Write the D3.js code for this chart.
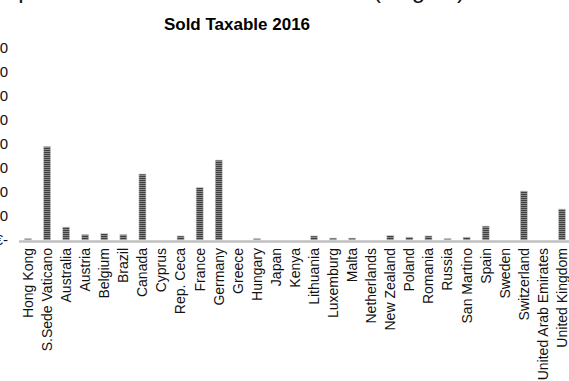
<!DOCTYPE html>
<html>
<head>
<meta charset="utf-8">
<script src="https://cdn.jsdelivr.net/npm/d3@7"></script>
<style>
  body { margin: 0; background: #fff; }
  svg { display: block; }
  .lbl { font-family: "Liberation Sans", Arial, sans-serif; fill: #111; }
</style>
</head>
<body>
<div id="chart"></div>
<script>
// data (values in euro)
var countries = ["Hong Kong", "S.Sede Vaticano", "Australia", "Austria", "Belgium", "Brazil",
  "Canada", "Cyprus", "Rep. Ceca", "France", "Germany", "Greece", "Hungary", "Japan", "Kenya",
  "Lithuania", "Luxemburg", "Malta", "Netherlands", "New Zealand", "Poland", "Romania", "Russia",
  "San Martino", "Spain", "Sweden", "Switzerland", "United Arab Emirates", "United Kingdom"];
var sold = [6000, 390000, 54000, 23000, 27000, 23000,
  275000, 0, 17000, 219000, 333000, 0, 6000, 0, 0,
  17000, 8000, 8000, 0, 19000, 12000, 17000, 6000,
  12000, 58000, 0, 204000, 0, 129000];
var yTicks = [0, 100000, 200000, 300000, 400000, 500000, 600000, 700000, 800000];

var svgWidth = 569, svgHeight = 381;

var svg = d3.select("#chart").append("svg")
  .attr("width", svgWidth)
  .attr("height", svgHeight);

// striped fill like the excel pattern
var defs = svg.append("defs");
var pat = defs.append("pattern")
  .attr("id", "stripes")
  .attr("patternUnits", "userSpaceOnUse")
  .attr("width", 4).attr("height", 2);
pat.append("rect").attr("width", 4).attr("height", 2).attr("fill", "#8a8a8a");
pat.append("rect").attr("width", 4).attr("height", 1).attr("fill", "#404040");

var x = d3.scaleBand()
  .domain(countries)
  .range([18.5, 571.5])
  .paddingInner(0.63)
  .paddingOuter(0.315);

var y = d3.scaleLinear()
  .domain([0, 800000])
  .range([240, 48]);

// heading above the chart, cut off by the top edge
var head = svg.append("text")
  .attr("class", "lbl")
  .attr("y", -2)
  .style("font-size", "24px");
var t1 = head.append("tspan").text("Spesa vendite all'estero");
var t2 = head.append("tspan").attr("x", 373).text("(Region)");
// line the first descender up with the picture
var sW = t1.node().getSubStringLength(0, 1);
var pW = t1.node().getSubStringLength(1, 1);
t1.attr("x", 25 - sW - pW / 2);

svg.append("text")
  .attr("class", "lbl")
  .attr("x", 237)
  .attr("y", 30)
  .attr("text-anchor", "middle")
  .style("font-size", "17px")
  .style("font-weight", "bold")
  .style("fill", "#000")
  .text("Sold Taxable 2016");

// y axis labels (mostly off the left edge)
var fmt = function(v) {
  if (v === 0) return "€-";
  return "€" + d3.format(",")(v).replace(/,/g, ".");
};
var yAxis = d3.axisLeft(y).tickValues(yTicks).tickFormat(fmt).tickSize(0).tickPadding(0);
var yg = svg.append("g")
  .attr("transform", "translate(8,0)")
  .call(yAxis);
yg.select(".domain").remove();
yg.selectAll("text")
  .attr("class", "lbl")
  .style("font-size", "15px")
  .attr("font-family", null);

// bars
svg.selectAll("rect.bar")
  .data(countries)
  .enter().append("rect")
  .attr("class", "bar")
  .attr("x", function(d) { return x(d); })
  .attr("width", x.bandwidth())
  .attr("y", function(d, i) { return y(sold[i]); })
  .attr("height", function(d, i) { return y(0) - y(sold[i]); })
  .attr("fill", "url(#stripes)")
  .attr("stroke", "#cfcfcf")
  .attr("stroke-width", 0.6);

// x axis
var xAxis = d3.axisBottom(x).tickSize(0).tickPadding(0);
var xg = svg.append("g")
  .attr("transform", "translate(0,241)")
  .call(xAxis);
xg.select(".domain")
  .attr("stroke", "#c0c0c0")
  .attr("stroke-width", 2.5);
xg.selectAll("text")
  .attr("class", "lbl")
  .attr("font-family", null)
  .style("font-size", "14px")
  .attr("transform", "rotate(-90)")
  .attr("text-anchor", "end")
  .attr("x", -7)
  .attr("y", 0)
  .attr("dy", "0.35em");
</script>
</body>
</html>
